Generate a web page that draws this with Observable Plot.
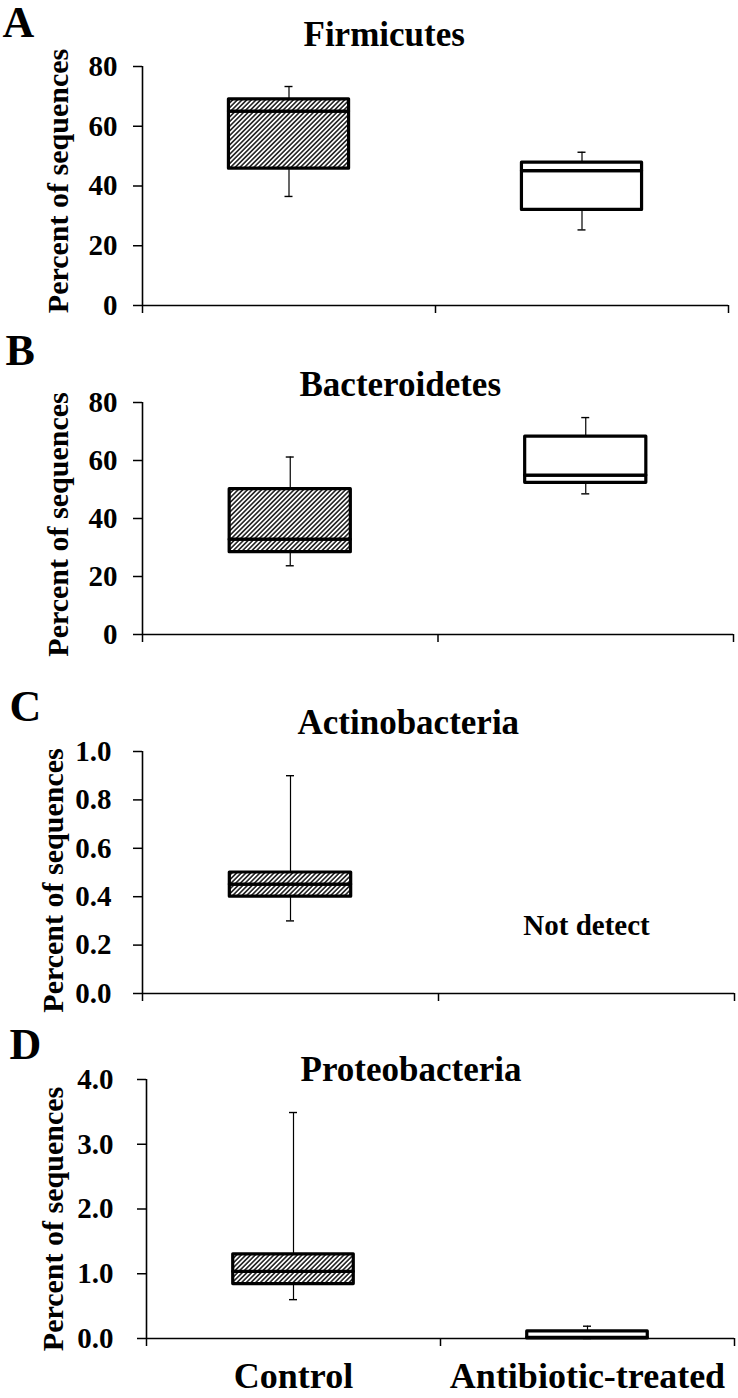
<!DOCTYPE html>
<html><head><meta charset="utf-8">
<script src="https://cdn.jsdelivr.net/npm/d3@7"></script>
<script src="https://cdn.jsdelivr.net/npm/@observablehq/plot@0.6"></script>
<style>
body{margin:0;background:#fff;}
#chart{width:738px;}
#chart svg{display:block;}
</style></head><body>
<svg width="0" height="0" style="position:absolute">
<defs>
<pattern id="hatch" patternUnits="userSpaceOnUse" width="3.3" height="3.3" patternTransform="rotate(45)">
<rect width="3.3" height="3.3" fill="#fff"/>
<line x1="0.85" y1="0" x2="0.85" y2="3.3" stroke="#222" stroke-width="1.6"/>
</pattern></defs></svg>
<div id="chart"></div>
<script>
// ---- data ----
const groups = ["Control", "Antibiotic-treated"];
const phyla = ["Firmicutes", "Bacteroidetes", "Actinobacteria", "Proteobacteria"];
const panelLetters = ["A", "B", "C", "D"];
const yLabel = "Percent of sequences";
// per panel: [Control, Antibiotic-treated]
const mins    = [[36.5, 25.3], [23.7, 48.5], [0.30, null], [0.60, 0.00]];
const q1s     = [[45.8, 32.0], [28.4, 52.3], [0.40, null], [0.84, 0.00]];
const medians = [[64.9, 45.0], [32.7, 54.8], [0.45, null], [1.03, 0.01]];
const q3s     = [[69.0, 47.8], [50.1, 68.2], [0.50, null], [1.30, 0.11]];
const maxs    = [[73.3, 51.3], [61.2, 74.8], [0.90, null], [3.49, 0.19]];
const yTicks  = [[0, 20, 40, 60, 80], [0, 20, 40, 60, 80], [0, 0.2, 0.4, 0.6, 0.8, 1.0], [0, 1, 2, 3, 4]];
const tickDecimals = [0, 0, 1, 1];
const notes = [{panel: 2, group: 1, text: "Not detect", value: 0.28}];

// ---- layout (styling only) ----
const layout = [
  {height: 330, mt: 66, mb: 25, ml: 142, mr: 10, letterX: 2,  letterY: 36, titleX: 303, titleY: 45, labelX: 58, labelDy: -5, tickPad: 16},
  {height: 335, mt: 72, mb: 31, ml: 142, mr: 5,  letterX: 5,  letterY: 34, titleX: 299, titleY: 65, labelX: 58, labelDy: 6,  tickPad: 16},
  {height: 340, mt: 86, mb: 12, ml: 142, mr: 4,  letterX: 9,  letterY: 55, titleX: 297, titleY: 68, labelX: 53, labelDy: 8,  tickPad: 22},
  {height: 393, mt: 74, mb: 60, ml: 146, mr: 4,  letterX: 9,  letterY: 53, titleX: 300, titleY: 75, labelX: 53, labelDy: 10, tickPad: 24}
];
const W = 738;
const font = "'Liberation Serif','Times New Roman',Times,serif";
const boxHalf = 0.205;

const chart = document.getElementById("chart");

phyla.forEach((phylum, i) => {
  const L = layout[i];
  const unitPx = (W - L.ml - L.mr) / 2;
  const cap = 4 / unitPx;
  const rows = groups.map((g, j) => ({
    group: g, j, pos: j + 0.5,
    min: mins[i][j], q1: q1s[i][j], median: medians[i][j], q3: q3s[i][j], max: maxs[i][j]
  })).filter(d => d.q1 != null);
  const ymax = d3.max(yTicks[i]);
  const fmt = d => d.toFixed(tickDecimals[i]);
  const boxMarks = [];
  [["url(#hatch)", 0], ["white", 1]].forEach(([fill, j]) => {
    const sub = rows.filter(d => d.j === j);
    boxMarks.push(Plot.rect(sub, {x1: d => d.pos - boxHalf, x2: d => d.pos + boxHalf, y1: "q1", y2: "median",
      fill, stroke: "black", strokeWidth: 3.2, strokeLinejoin: "round"}));
    boxMarks.push(Plot.rect(sub, {x1: d => d.pos - boxHalf, x2: d => d.pos + boxHalf, y1: "median", y2: "q3",
      fill, stroke: "black", strokeWidth: 3.2, strokeLinejoin: "round"}));
  });
  const marks = [
    Plot.axisY({ticks: yTicks[i], tickFormat: fmt, tickSize: 9, tickPadding: L.tickPad, fontSize: 29,
      fontWeight: "bold", label: null, strokeWidth: 1.5}),
    Plot.axisX({ticks: [0, 1, 2], tickSize: 8, tickFormat: () => "", label: null, strokeWidth: 1.5}),
    Plot.ruleY([0], {strokeWidth: 1.6}),
    Plot.ruleX([0], {strokeWidth: 1.6}),
    Plot.ruleX(rows, {x: "pos", y1: "q3", y2: "max", strokeWidth: 1.2}),
    Plot.ruleX(rows, {x: "pos", y1: "min", y2: "q1", strokeWidth: 1.2}),
    Plot.ruleY(rows, {y: "max", x1: d => d.pos - cap, x2: d => d.pos + cap, strokeWidth: 1.4}),
    Plot.ruleY(rows, {y: "min", x1: d => d.pos - cap, x2: d => d.pos + cap, strokeWidth: 1.4}),
    ...boxMarks,
    Plot.text([phylum], {frameAnchor: "top-left", textAnchor: "start", lineAnchor: "bottom",
      dx: L.titleX - L.ml, dy: L.titleY - L.mt, fontSize: 35, fontWeight: "bold"}),
    Plot.text([panelLetters[i]], {frameAnchor: "top-left", textAnchor: "start", lineAnchor: "bottom",
      dx: L.letterX - L.ml, dy: L.letterY - L.mt, fontSize: 44, fontWeight: "bold"}),
    Plot.text([yLabel], {frameAnchor: "left", rotate: -90, textAnchor: "middle", lineAnchor: "middle",
      dx: L.labelX - L.ml, dy: L.labelDy, fontSize: 30, fontWeight: "bold"}),
    Plot.text(notes.filter(n => n.panel === i), {x: n => n.group + 0.5, y: "value", text: "text",
      fontSize: 29, fontWeight: "bold", lineAnchor: "middle"})
  ];
  if (i === phyla.length - 1) {
    marks.push(Plot.text(groups, {x: (d, j) => j + 0.5, frameAnchor: "bottom", lineAnchor: "top",
      dy: 24, fontSize: 36, fontWeight: "bold"}));
  }
  const svg = Plot.plot({
    width: W, height: L.height,
    marginTop: L.mt, marginBottom: L.mb, marginLeft: L.ml, marginRight: L.mr,
    x: {type: "linear", domain: [0, 2], axis: null},
    y: {domain: [0, ymax], axis: null},
    style: {fontFamily: font, background: "white", overflow: "visible", color: "black"},
    marks
  });
  chart.appendChild(svg);
});
</script>
</body></html>
